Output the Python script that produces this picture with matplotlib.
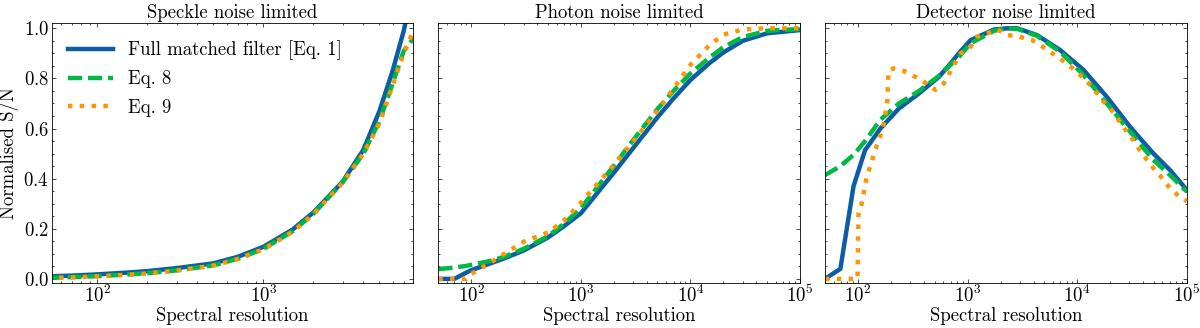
import matplotlib
matplotlib.use("Agg")
import matplotlib.pyplot as plt
from matplotlib.ticker import AutoMinorLocator, NullFormatter, MultipleLocator

# --- speckle noise limited ---
r_speckle = [50, 70, 100, 150, 200, 300, 500, 700, 1000, 1500, 2000, 3000, 4000, 5000, 6000, 7000, 8000]
full_speckle = [0.010, 0.013, 0.018, 0.025, 0.031, 0.043, 0.062, 0.088, 0.128, 0.197, 0.265, 0.388, 0.515, 0.67, 0.83, 0.99, 1.17]
eq8_speckle = [0.004, 0.007, 0.011, 0.017, 0.023, 0.034, 0.054, 0.080, 0.120, 0.190, 0.260, 0.385, 0.50, 0.63, 0.78, 0.91, 0.96]
eq9_speckle = [0.004, 0.006, 0.010, 0.016, 0.022, 0.033, 0.053, 0.079, 0.118, 0.188, 0.258, 0.383, 0.50, 0.62, 0.77, 0.90, 0.99]

# --- photon noise limited ---
r_photon = [50, 70, 90, 100, 150, 200, 300, 500, 700, 1000, 1500, 2000, 3000, 5000, 7000,
            10000, 15000, 20000, 30000, 50000, 100000]
full_photon = [0.0, 0.0, 0.025, 0.035, 0.062, 0.082, 0.113, 0.165, 0.21, 0.262, 0.357, 0.424, 0.522,
               0.645, 0.72, 0.794, 0.862, 0.904, 0.95, 0.98, 0.993]
eq8_photon = [0.039, 0.045, 0.052, 0.056, 0.072, 0.088, 0.12, 0.17, 0.22, 0.282, 0.381, 0.452, 0.554,
              0.678, 0.75, 0.82, 0.884, 0.925, 0.965, 0.99, 0.997]
eq9_photon = [0.0, 0.0, 0.0, 0.02, 0.065, 0.10, 0.148, 0.185, 0.233, 0.304, 0.392, 0.455, 0.548,
              0.671, 0.76, 0.854, 0.934, 0.975, 0.995, 1.0, 1.0]

# --- detector noise limited ---
r_detector = [50, 69, 91, 116, 160, 236, 360, 547, 700, 830, 1065, 1740, 2300, 2830, 4290, 7000,
              11400, 18600, 30300, 49400, 70000, 100000]
full_detector = [0.0, 0.04, 0.37, 0.514, 0.60, 0.68, 0.74, 0.806, 0.86, 0.90, 0.953, 0.995, 1.0, 1.0,
                 0.973, 0.913, 0.834, 0.727, 0.607, 0.501, 0.435, 0.355]
eq8_detector = [0.414, 0.45, 0.495, 0.55, 0.635, 0.70, 0.75, 0.81, 0.855, 0.885, 0.94, 0.99, 1.0, 0.998,
                0.97, 0.906, 0.814, 0.70, 0.588, 0.475, 0.415, 0.348]
r_detector_eq9 = [50, 75, 99, 101, 108, 121, 132, 143, 156, 172, 185, 187, 190, 210, 262, 321, 397, 508,
                  607, 700, 863, 1065, 1225, 1510, 1860, 2300, 2930, 3870, 5110, 6530, 8350, 10600,
                  13600, 16900, 21200, 25500, 31600, 38000, 46800, 58000, 70000, 89000, 100000]
eq9_detector = [0.0, 0.0, 0.0, 0.26, 0.30, 0.415, 0.46, 0.515, 0.554, 0.62, 0.71, 0.77, 0.83, 0.84, 0.83,
                0.81, 0.787, 0.754, 0.78, 0.83, 0.90, 0.927, 0.967, 0.98, 0.996, 0.973, 0.967, 0.953,
                0.92, 0.887, 0.854, 0.814, 0.767, 0.714, 0.667, 0.614, 0.561, 0.508, 0.455, 0.408,
                0.362, 0.322, 0.31]

titles = ["Speckle noise limited", "Photon noise limited", "Detector noise limited"]
xlims = [(53, 8000), (50, 1e5), (50, 1e5)]

BLUE = "#0C5DA5"
GREEN = "#00B945"
ORANGE = "#FF9500"
LW = 3.2

plt.rcParams.update({
    "font.family": "serif",
    "font.serif": ["cmr10", "DejaVu Serif"],
    "mathtext.fontset": "cm",
    "axes.formatter.use_mathtext": True,
    "font.size": 13.5,
    "axes.linewidth": 0.6,
    "xtick.direction": "in",
    "ytick.direction": "in",
    "xtick.top": True,
    "ytick.right": True,
    "xtick.major.size": 3,
    "ytick.major.size": 3,
    "xtick.minor.size": 1.5,
    "ytick.minor.size": 1.5,
    "xtick.major.width": 0.5,
    "ytick.major.width": 0.5,
    "xtick.minor.width": 0.5,
    "ytick.minor.width": 0.5,
    "xtick.major.pad": 1.0,
    "ytick.major.pad": 2.0,
    "xtick.minor.visible": True,
    "ytick.minor.visible": True,
})

fig, axes = plt.subplots(1, 3, figsize=(12, 3.28), dpi=100, sharey=True)

panels = [
    (r_speckle, full_speckle, r_speckle, eq8_speckle, r_speckle, eq9_speckle),
    (r_photon, full_photon, r_photon, eq8_photon, r_photon, eq9_photon),
    (r_detector, full_detector, r_detector, eq8_detector, r_detector_eq9, eq9_detector),
]

for ax, (rb, yb, rg, yg, ro, yo), title, xl in zip(axes, panels, titles, xlims):
    ax.plot(rb, yb, color=BLUE, lw=LW, label="Full matched filter [Eq. 1]")
    ax.plot(rg, yg, color=GREEN, lw=LW, dashes=(3.2, 1.3), label="Eq. 8")
    ax.plot(ro, yo, color=ORANGE, lw=LW, ls=":", label="Eq. 9")
    ax.set_xscale("log")
    ax.set_xlim(*xl)
    ax.set_ylim(-0.018, 1.02)
    ax.xaxis.set_minor_formatter(NullFormatter())
    ax.yaxis.set_major_locator(MultipleLocator(0.2))
    ax.yaxis.set_minor_locator(AutoMinorLocator(4))
    ax.set_title(title, pad=4, fontsize=13.5)
    ax.set_xlabel("Spectral resolution", labelpad=1)

axes[0].set_ylabel("Normalised S/N", labelpad=3)
axes[0].legend(loc="upper left", frameon=False, handlelength=2.4, handletextpad=0.8,
               labelspacing=0.55)

fig.subplots_adjust(left=0.043, right=0.989, top=0.929, bottom=0.136, wspace=0.069)
plt.savefig("out.png")
